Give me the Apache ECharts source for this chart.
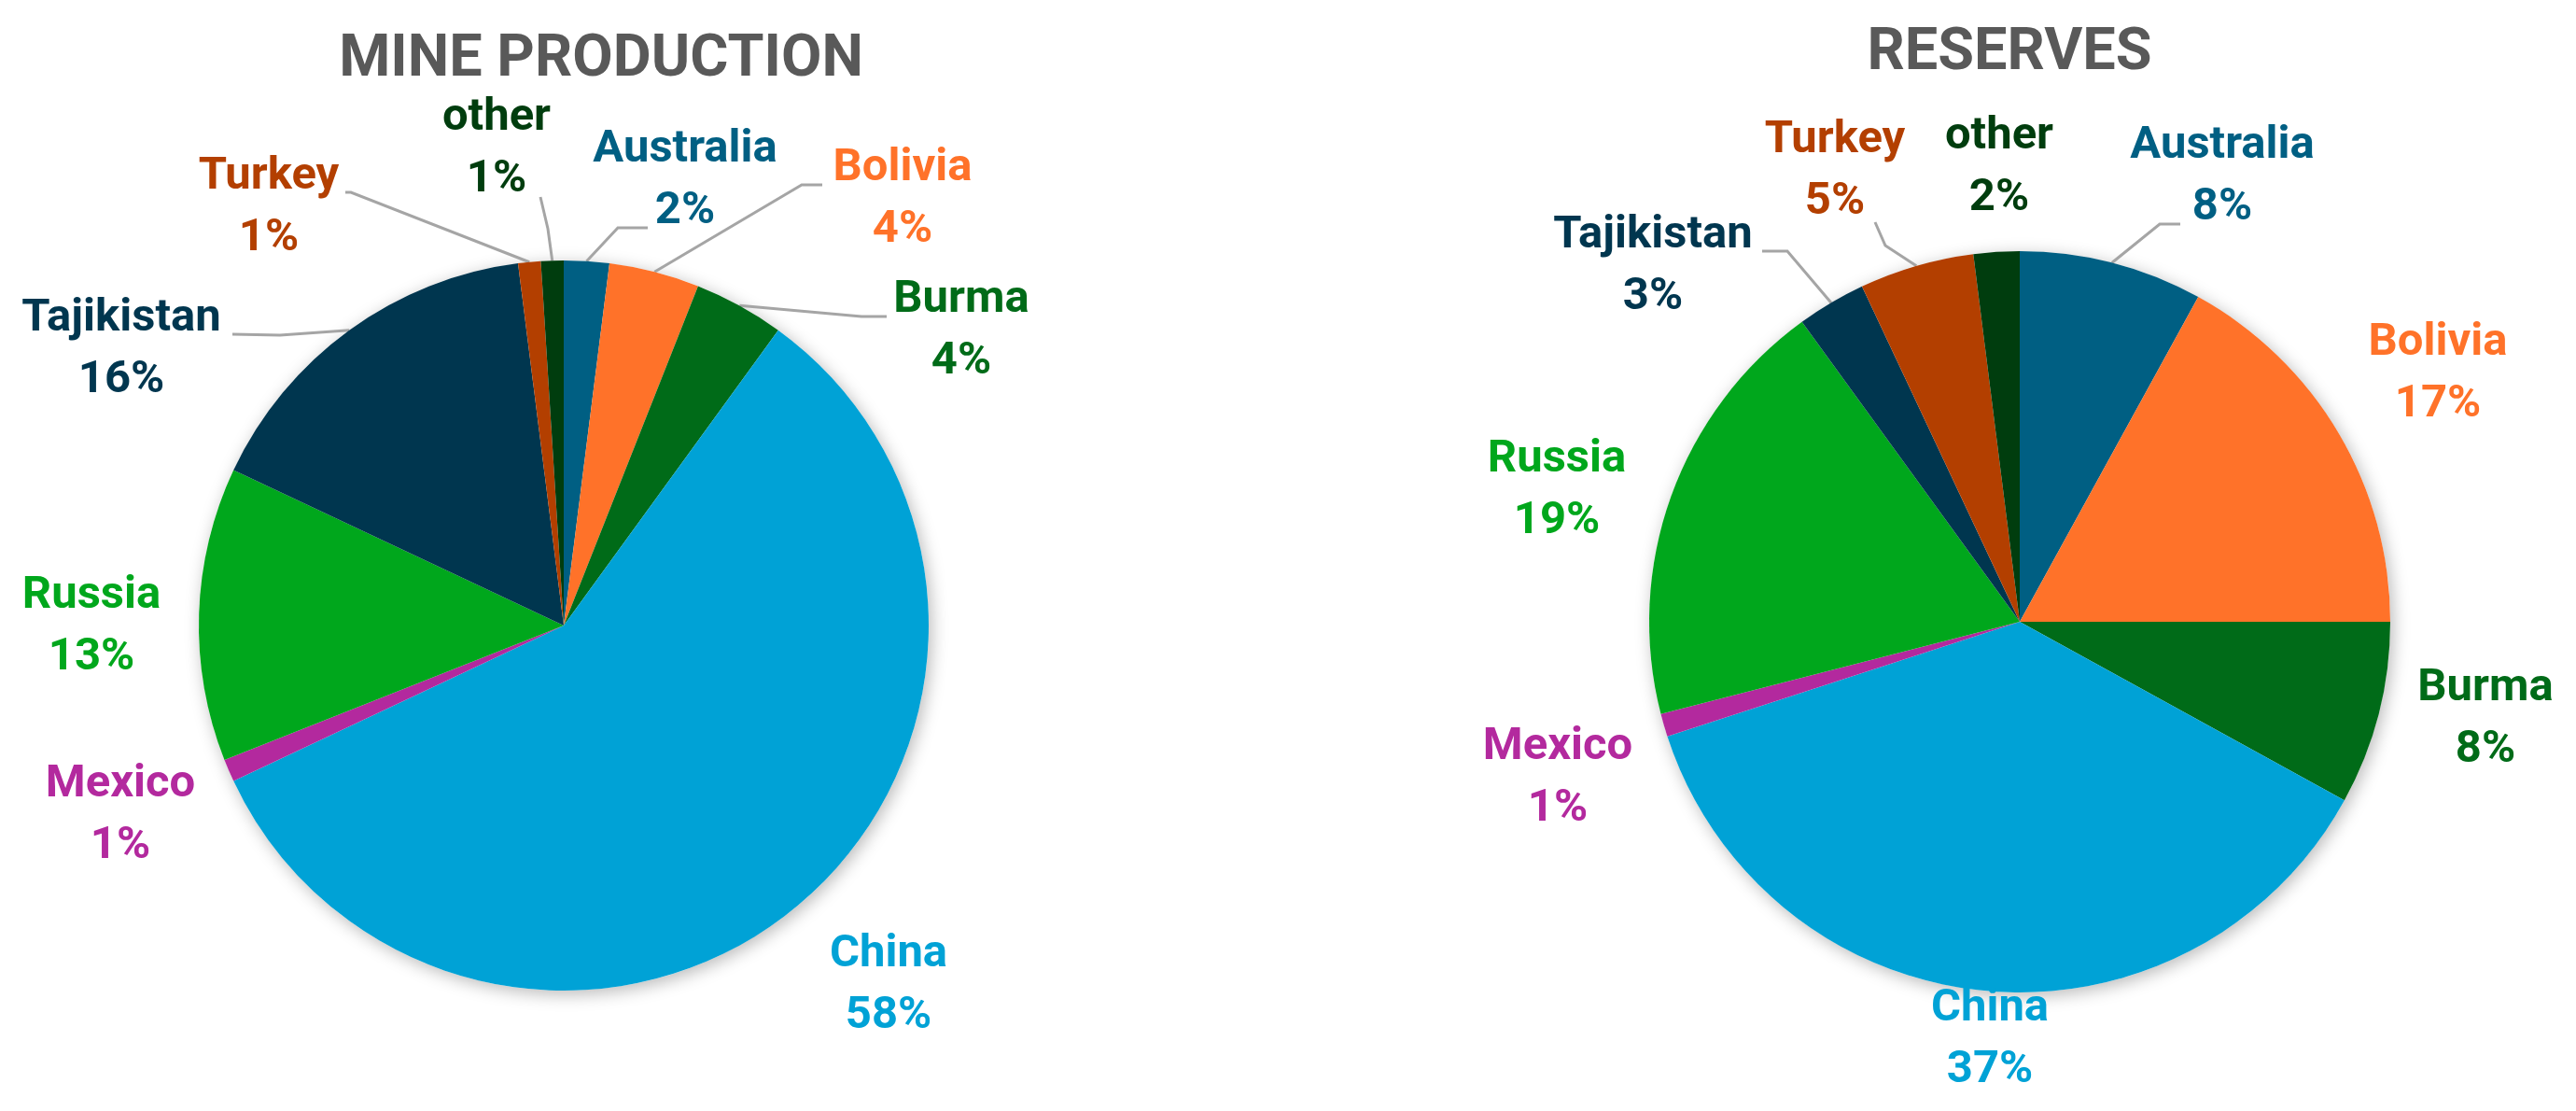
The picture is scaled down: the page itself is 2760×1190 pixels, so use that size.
<!DOCTYPE html>
<html>
<head>
<meta charset="utf-8">
<title>Mine production and reserves</title>
<script src="https://cdn.jsdelivr.net/npm/echarts@6/dist/echarts.min.js"></script>
<style>
  html, body { margin: 0; padding: 0; background: #fff; }
  #chart { width: 2760px; height: 1190px; }
</style>
</head>
<body>
<div id="chart"></div>
<script>
// data (percent shares)
const countries = ["Australia", "Bolivia", "Burma", "China", "Mexico", "Russia", "Tajikistan", "Turkey", "other"];
const mineProduction = [2, 4, 4, 58, 1, 13, 16, 1, 1];
const reserves = [8, 17, 8, 37, 1, 19, 3, 5, 2];

const countryColors = {
  Australia: "#005f83",
  Bolivia: "#ff7229",
  Burma: "#006b18",
  China: "#00a2d6",
  Mexico: "#b3299e",
  Russia: "#00a71c",
  Tajikistan: "#00364f",
  Turkey: "#b33f00",
  other: "#003d0e"
};

// label placement: centre of the two-line label, and the leader line bend points
const mineLabels = {
  Australia: { pos: [734, 194], line: [[662, 244], [694, 244]] },
  Bolivia: { pos: [967, 214], line: [[859, 198], [881, 198]] },
  Burma: { pos: [1030, 355], line: [[923, 339], [950, 339]] },
  China: { pos: [952, 1056] },
  Mexico: { pos: [129, 874] },
  Russia: { pos: [98, 672] },
  Tajikistan: { pos: [130, 375], line: [[300, 359], [249, 358]] },
  Turkey: { pos: [288, 223], line: [[376, 206], [370, 206]] },
  other: { pos: [532, 160], line: [[587, 245], [579, 211]] }
};
const reserveLabels = {
  Australia: { pos: [2381, 190], line: [[2314, 240], [2336, 240]] },
  Bolivia: { pos: [2612, 401] },
  Burma: { pos: [2663, 771] },
  China: { pos: [2132, 1114] },
  Mexico: { pos: [1669, 834] },
  Russia: { pos: [1668, 526] },
  Tajikistan: { pos: [1771, 286], line: [[1915, 269], [1888, 269]] },
  Turkey: { pos: [1966, 184], line: [[2020, 263], [2009, 238]] },
  other: { pos: [2142, 180] }
};

const FONT = "Roboto";

function pieData(values, labels) {
  return countries.map((name, i) => ({
    name: name,
    value: values[i],
    itemStyle: { color: countryColors[name] },
    label: { color: countryColors[name] },
    labelLine: { show: !!labels[name].line }
  }));
}

function labelLayoutFor(labels) {
  return function (params) {
    const cfg = labels[countries[params.dataIndex]];
    const out = {
      x: cfg.pos[0],
      y: cfg.pos[1],
      align: "center",
      verticalAlign: "middle"
    };
    if (cfg.line && params.labelLinePoints) {
      out.labelLinePoints = [params.labelLinePoints[0]].concat(cfg.line);
    }
    return out;
  };
}

// plain white disc under each pie, only there to cast the soft shadow
function backdrop(center, radius) {
  return {
    type: "pie",
    silent: true,
    center: center,
    radius: radius,
    z: 1,
    label: { show: false },
    labelLine: { show: false },
    emphasis: { disabled: true },
    itemStyle: {
      color: "#ffffff",
      shadowBlur: 18,
      shadowColor: "rgba(0,0,0,0.28)",
      shadowOffsetX: 3,
      shadowOffsetY: 4
    },
    data: [{ value: 1, name: "" }]
  };
}

function mainPie(center, radius, values, labels) {
  return {
    type: "pie",
    center: center,
    radius: radius,
    z: 2,
    startAngle: 90,
    clockwise: true,
    avoidLabelOverlap: false,
    emphasis: { disabled: true },
    itemStyle: { borderWidth: 0 },
    label: {
      show: true,
      position: "outside",
      fontFamily: FONT,
      fontWeight: "bold",
      fontSize: 49,
      lineHeight: 66,
      formatter: p => p.name + "\n" + Math.round(p.percent) + "%"
    },
    labelLine: {
      show: true,
      smooth: false,
      lineStyle: { color: "#a5a5a5", width: 3 }
    },
    labelLayout: labelLayoutFor(labels),
    data: pieData(values, labels)
  };
}

const chart = echarts.init(document.getElementById("chart"), null, { renderer: "canvas" });

chart.setOption({
  backgroundColor: "#ffffff",
  animation: false,
  title: [
    {
      text: "MINE PRODUCTION",
      left: 639,
      top: 29,
      textAlign: "center",
      textStyle: { fontFamily: FONT, fontWeight: "bold", fontSize: 63, color: "#595959" }
    },
    {
      text: "RESERVES",
      left: 2148,
      top: 22,
      textAlign: "center",
      textStyle: { fontFamily: FONT, fontWeight: "bold", fontSize: 63, color: "#595959" }
    }
  ],
  series: [
    backdrop([604, 670], 391),
    backdrop([2164, 666], 397),
    mainPie([604, 670], 391, mineProduction, mineLabels),
    mainPie([2164, 666], 397, reserves, reserveLabels)
  ]
});
</script>
</body>
</html>
